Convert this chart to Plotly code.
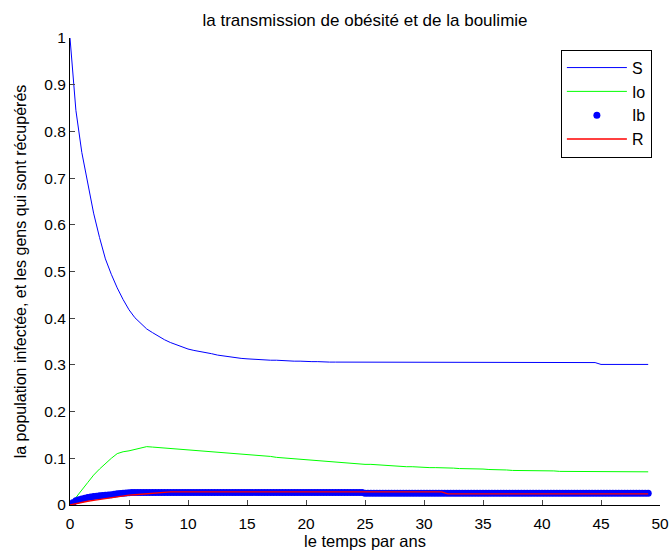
import plotly.graph_objects as go

# time grid for the line series (years)
t = [0, 0.5, 1, 1.5, 2, 2.5, 3, 3.5, 4, 4.5,
     5, 5.5, 6, 6.5, 7, 7.5, 8, 8.5, 9, 9.5,
     10, 10.5, 11, 11.5, 12, 12.5, 13, 13.5, 14, 14.5,
     15, 15.5, 16, 16.5, 17, 17.5, 18, 18.5, 19, 19.5,
     20, 20.5, 21, 21.5, 22, 22.5, 23, 23.5, 24, 24.5,
     25, 25.5, 26, 26.5, 27, 27.5, 28, 28.5, 29, 29.5,
     30, 30.5, 31, 31.5, 32, 32.5, 33, 33.5, 34, 34.5,
     35, 35.5, 36, 36.5, 37, 37.5, 38, 38.5, 39, 39.5,
     40, 40.5, 41, 41.5, 42, 42.5, 43, 43.5, 44, 44.5,
     45, 45.5, 46, 46.5, 47, 47.5, 48, 48.5, 49]

S = [1.000, 0.845, 0.755, 0.688, 0.625, 0.573, 0.527, 0.494, 0.465, 0.440,
     0.418, 0.401, 0.388, 0.377, 0.369, 0.361, 0.354, 0.348, 0.343, 0.338,
     0.334, 0.331, 0.329, 0.327, 0.324, 0.321, 0.319, 0.317, 0.315, 0.314,
     0.313, 0.312, 0.311, 0.311, 0.310, 0.310, 0.309, 0.309, 0.308, 0.308,
     0.307, 0.307, 0.307, 0.306, 0.306, 0.306, 0.306, 0.306, 0.306, 0.305,
     0.305, 0.305, 0.305, 0.305, 0.305, 0.305, 0.305, 0.305, 0.305, 0.305,
     0.305, 0.305, 0.305, 0.305, 0.305, 0.305, 0.305, 0.305, 0.305, 0.305,
     0.305, 0.305, 0.305, 0.305, 0.305, 0.305, 0.305, 0.305, 0.305, 0.305,
     0.305, 0.305, 0.305, 0.305, 0.305, 0.305, 0.305, 0.305, 0.305, 0.305,
     0.301, 0.301, 0.301, 0.301, 0.301, 0.301, 0.301, 0.301, 0.301]

Io = [0.000, 0.017, 0.032, 0.048, 0.064, 0.077, 0.089, 0.100, 0.110, 0.114,
      0.116, 0.119, 0.122, 0.125, 0.124, 0.123, 0.122, 0.122, 0.121, 0.120,
      0.119, 0.118, 0.117, 0.116, 0.115, 0.113, 0.112, 0.111, 0.110, 0.109,
      0.108, 0.107, 0.106, 0.105, 0.104, 0.102, 0.101, 0.099, 0.098, 0.097,
      0.096, 0.095, 0.094, 0.093, 0.092, 0.091, 0.090, 0.089, 0.088, 0.088,
      0.087, 0.087, 0.086, 0.085, 0.085, 0.084, 0.083, 0.082, 0.082, 0.081,
      0.081, 0.080, 0.080, 0.080, 0.079, 0.079, 0.078, 0.078, 0.077, 0.077,
      0.077, 0.076, 0.076, 0.075, 0.075, 0.074, 0.074, 0.074, 0.074, 0.073,
      0.073, 0.073, 0.073, 0.072, 0.072, 0.072, 0.071, 0.071, 0.071, 0.071,
      0.071, 0.071, 0.071, 0.071, 0.071, 0.071, 0.071, 0.071, 0.071]

R = [0.000, 0.003, 0.006, 0.008, 0.010, 0.012, 0.014, 0.016, 0.018, 0.020,
     0.021, 0.022, 0.023, 0.024, 0.025, 0.026, 0.028, 0.028, 0.028, 0.028,
     0.028, 0.028, 0.028, 0.028, 0.028, 0.028, 0.028, 0.028, 0.028, 0.028,
     0.028, 0.028, 0.028, 0.028, 0.028, 0.028, 0.028, 0.028, 0.028, 0.028,
     0.028, 0.028, 0.028, 0.028, 0.028, 0.028, 0.028, 0.028, 0.028, 0.028,
     0.028, 0.028, 0.028, 0.028, 0.028, 0.028, 0.028, 0.028, 0.028, 0.028,
     0.028, 0.028, 0.028, 0.028, 0.024, 0.024, 0.024, 0.024, 0.024, 0.024,
     0.024, 0.024, 0.024, 0.024, 0.024, 0.024, 0.024, 0.024, 0.024, 0.024,
     0.024, 0.024, 0.024, 0.024, 0.024, 0.024, 0.024, 0.024, 0.024, 0.024,
     0.024, 0.024, 0.024, 0.024, 0.024, 0.024, 0.024, 0.024, 0.024]

# finer time grid for the dotted Ib series
t_ib = [0, 0.25, 0.5, 0.75, 1, 1.25, 1.5, 1.75,
        2, 2.25, 2.5, 2.75, 3, 3.25, 3.5, 3.75,
        4, 4.25, 4.5, 4.75, 5, 5.25, 5.5, 5.75,
        6, 6.25, 6.5, 6.75, 7, 7.25, 7.5, 7.75,
        8, 8.25, 8.5, 8.75, 9, 9.25, 9.5, 9.75,
        10, 10.25, 10.5, 10.75, 11, 11.25, 11.5, 11.75,
        12, 12.25, 12.5, 12.75, 13, 13.25, 13.5, 13.75,
        14, 14.25, 14.5, 14.75, 15, 15.25, 15.5, 15.75,
        16, 16.25, 16.5, 16.75, 17, 17.25, 17.5, 17.75,
        18, 18.25, 18.5, 18.75, 19, 19.25, 19.5, 19.75,
        20, 20.25, 20.5, 20.75, 21, 21.25, 21.5, 21.75,
        22, 22.25, 22.5, 22.75, 23, 23.25, 23.5, 23.75,
        24, 24.25, 24.5, 24.75, 25, 25.25, 25.5, 25.75,
        26, 26.25, 26.5, 26.75, 27, 27.25, 27.5, 27.75,
        28, 28.25, 28.5, 28.75, 29, 29.25, 29.5, 29.75,
        30, 30.25, 30.5, 30.75, 31, 31.25, 31.5, 31.75,
        32, 32.25, 32.5, 32.75, 33, 33.25, 33.5, 33.75,
        34, 34.25, 34.5, 34.75, 35, 35.25, 35.5, 35.75,
        36, 36.25, 36.5, 36.75, 37, 37.25, 37.5, 37.75,
        38, 38.25, 38.5, 38.75, 39, 39.25, 39.5, 39.75,
        40, 40.25, 40.5, 40.75, 41, 41.25, 41.5, 41.75,
        42, 42.25, 42.5, 42.75, 43, 43.25, 43.5, 43.75,
        44, 44.25, 44.5, 44.75, 45, 45.25, 45.5, 45.75,
        46, 46.25, 46.5, 46.75, 47, 47.25, 47.5, 47.75,
        48, 48.25, 48.5, 48.75, 49]

Ib = [0.000, 0.005, 0.009, 0.011, 0.013, 0.0145, 0.016, 0.017,
      0.018, 0.019, 0.020, 0.0205, 0.021, 0.0215, 0.022, 0.023,
      0.024, 0.0245, 0.025, 0.0255, 0.026, 0.0265, 0.027, 0.027,
      0.027, 0.027, 0.027, 0.027, 0.027, 0.027, 0.027, 0.027,
      0.027, 0.027, 0.027, 0.027, 0.027, 0.027, 0.027, 0.027,
      0.027, 0.027, 0.027, 0.027, 0.027, 0.027, 0.027, 0.027,
      0.027, 0.027, 0.027, 0.027, 0.027, 0.027, 0.027, 0.027,
      0.027, 0.027, 0.027, 0.027, 0.027, 0.027, 0.027, 0.027,
      0.027, 0.027, 0.027, 0.027, 0.027, 0.027, 0.027, 0.027,
      0.027, 0.027, 0.027, 0.027, 0.027, 0.027, 0.027, 0.027,
      0.027, 0.027, 0.027, 0.027, 0.027, 0.027, 0.027, 0.027,
      0.027, 0.027, 0.027, 0.027, 0.027, 0.027, 0.027, 0.027,
      0.027, 0.027, 0.027, 0.027, 0.025, 0.025, 0.025, 0.025,
      0.025, 0.025, 0.025, 0.025, 0.025, 0.025, 0.025, 0.025,
      0.025, 0.025, 0.025, 0.025, 0.025, 0.025, 0.025, 0.025,
      0.025, 0.025, 0.025, 0.025, 0.025, 0.025, 0.025, 0.025,
      0.025, 0.025, 0.025, 0.025, 0.025, 0.025, 0.025, 0.025,
      0.025, 0.025, 0.025, 0.025, 0.025, 0.025, 0.025, 0.025,
      0.025, 0.025, 0.025, 0.025, 0.025, 0.025, 0.025, 0.025,
      0.025, 0.025, 0.025, 0.025, 0.025, 0.025, 0.025, 0.025,
      0.025, 0.025, 0.025, 0.025, 0.025, 0.025, 0.025, 0.025,
      0.025, 0.025, 0.025, 0.025, 0.025, 0.025, 0.025, 0.025,
      0.025, 0.025, 0.025, 0.025, 0.025, 0.025, 0.025, 0.025,
      0.025, 0.025, 0.025, 0.025, 0.025, 0.025, 0.025, 0.025,
      0.025, 0.025, 0.025, 0.025, 0.025]

x_ticks = [0, 5, 10, 15, 20, 25, 30, 35, 40, 45, 50]
y_ticks = [0, 0.1, 0.2, 0.3, 0.4, 0.5, 0.6, 0.7, 0.8, 0.9, 1]
y_tick_text = ["0", "0.1", "0.2", "0.3", "0.4", "0.5", "0.6", "0.7", "0.8", "0.9", "1"]

FONT = "Liberation Sans, Arial, sans-serif"

fig = go.Figure()
fig.add_trace(go.Scatter(x=t, y=S, mode="lines", name="S", legendgroup="a",
                         line=dict(color="#0000FF", width=1)))
fig.add_trace(go.Scatter(x=t, y=Io, mode="lines", name="Io", legendgroup="b",
                         line=dict(color="#00FF00", width=1)))
fig.add_trace(go.Scatter(x=t_ib, y=Ib, mode="markers", name="Ib", legendgroup="c",
                         marker=dict(color="#0000FF", size=7, line=dict(width=0))))
fig.add_trace(go.Scatter(x=t, y=R, mode="lines", name="R", legendgroup="d",
                         line=dict(color="#FF0000", width=1.3)))

fig.update_layout(
    width=670, height=553,
    margin=dict(l=70, r=10, t=38, b=48, autoexpand=False),
    paper_bgcolor="white", plot_bgcolor="white",
    font=dict(family=FONT, size=15, color="black"),
    title=dict(text="la transmission de obésité et de la boulimie",
               x=0.5, xanchor="center", xref="paper", y=0.963, yanchor="middle",
               font=dict(size=17)),
    legend=dict(x=0.832, y=0.975, xanchor="left", yanchor="top",
                bgcolor="white", bordercolor="black", borderwidth=1,
                tracegroupgap=3, traceorder="normal", itemwidth=60,
                font=dict(size=16)),
    showlegend=True,
)
fig.update_xaxes(range=[0, 50], tickvals=x_ticks, ticks="inside", ticklen=5,
                 showline=True, linecolor="black", linewidth=1, mirror=False,
                 showgrid=False, zeroline=False, automargin=False,
                 tickfont=dict(size=15.5), ticklabelstandoff=4,
                 title=dict(text="le temps par ans", standoff=4, font=dict(size=16.5)))
fig.update_yaxes(range=[0, 1], tickvals=y_ticks, ticktext=y_tick_text,
                 ticks="inside", ticklen=5,
                 showline=True, linecolor="black", linewidth=1, mirror=False,
                 showgrid=False, zeroline=False, automargin=False,
                 tickfont=dict(size=15.5),
                 title=dict(text="la population infectée, et les gens qui sont récupérés",
                            standoff=13, font=dict(size=16)))

fig.write_html("out.html", config={"displayModeBar": False},
               post_script="document.body.style.margin='0';")
